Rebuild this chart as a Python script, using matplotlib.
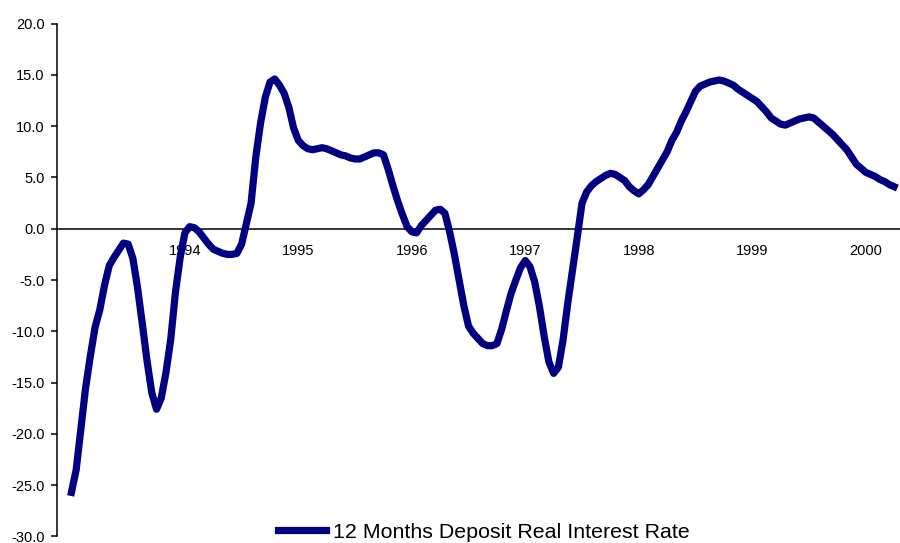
import numpy as np
import matplotlib.pyplot as plt

plt.rcParams['font.family'] = ['Liberation Sans', 'DejaVu Sans']
plt.rcParams['axes.unicode_minus'] = False

# half-monthly values, Jan 1993 .. Apr 2000 (one row = half a year)
rate = [-25.7, -23.5, -19.5, -15.5, -12.4, -9.6, -7.9, -5.5, -3.6, -2.8, -2.1, -1.4,
        -1.5, -2.9, -5.8, -9.3, -12.9, -16.0, -17.6, -16.5, -14.0, -10.8, -6.2, -2.8,
        -0.4, 0.2, 0.1, -0.3, -0.9, -1.5, -2.0, -2.2, -2.4, -2.5, -2.5, -2.4,
        -1.5, 0.5, 2.5, 7.0, 10.3, 12.8, 14.3, 14.6, 14.0, 13.2, 11.8, 9.8,
        8.6, 8.1, 7.8, 7.7, 7.8, 7.9, 7.8, 7.6, 7.4, 7.2, 7.1, 6.9,
        6.8, 6.8, 7.0, 7.2, 7.4, 7.4, 7.2, 5.8, 4.2, 2.7, 1.4, 0.2,
        -0.3, -0.4, 0.3, 0.8, 1.3, 1.8, 1.9, 1.5, -0.3, -2.5, -5.0, -7.5,
        -9.5, -10.2, -10.7, -11.2, -11.4, -11.4, -11.2, -9.8, -8.0, -6.3, -5.0, -3.8,
        -3.1, -3.7, -5.2, -7.6, -10.5, -13.0, -14.1, -13.5, -10.8, -7.2, -4.0, -0.8,
        2.5, 3.6, 4.2, 4.6, 4.9, 5.2, 5.4, 5.3, 5.0, 4.7, 4.1, 3.7,
        3.4, 3.8, 4.3, 5.1, 5.9, 6.7, 7.5, 8.6, 9.4, 10.5, 11.4, 12.4,
        13.4, 13.9, 14.1, 14.3, 14.4, 14.5, 14.4, 14.2, 14.0, 13.6, 13.3, 13.0,
        12.7, 12.4, 11.9, 11.4, 10.8, 10.5, 10.2, 10.1, 10.3, 10.5, 10.7, 10.8,
        10.9, 10.8, 10.4, 10.0, 9.6, 9.2, 8.7, 8.2, 7.7, 7.0, 6.3, 5.9,
        5.5, 5.3, 5.1, 4.8, 4.6, 4.3, 4.1]
months = np.arange(len(rate)) / 2 - 12   # 0 = Jan 1994
years = ['1994', '1995', '1996', '1997', '1998', '1999', '2000']
y_ticks = np.arange(-30, 21, 5)

fig = plt.figure(figsize=(9, 5.43), dpi=100)
ax = fig.add_axes([0.0633, 0.012, 0.9367, 0.9446])

ax.plot(months, rate, color='#000080', lw=5.2, zorder=3,
        label='12 Months Deposit Real Interest Rate')

ax.set_xlim(-13.53, 75.63)
ax.set_ylim(-30, 20)

ax.spines['top'].set_visible(False)
ax.spines['right'].set_visible(False)
ax.spines['bottom'].set_position(('data', 0))
ax.spines['bottom'].set_linewidth(1.1)
ax.spines['left'].set_linewidth(1.1)

ax.set_xticks(np.arange(0, 73, 12))
ax.set_xticklabels(years)
ax.tick_params(axis='x', length=0, pad=11, labelsize=10.5)
ax.set_yticks(y_ticks)
ax.set_yticklabels(['%.1f' % v for v in y_ticks])
ax.tick_params(axis='y', direction='out', length=4, width=1.1, labelsize=10.5, pad=5)

ax.legend(loc='center', bbox_to_anchor=(0.538, 0.02), bbox_transform=fig.transFigure,
          frameon=False, fontsize=15.4, handlelength=2.24, handletextpad=0.33)

fig.savefig('out.png', dpi=100)
